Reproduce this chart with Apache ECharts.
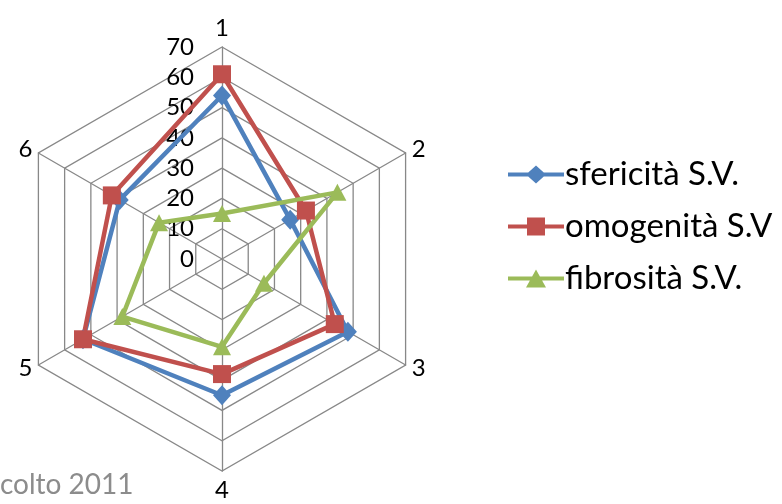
<!DOCTYPE html>
<html>
<head>
<meta charset="utf-8">
<script src="https://cdn.jsdelivr.net/npm/echarts@6/dist/echarts.min.js"></script>
<style>html,body{margin:0;padding:0;background:#fff}#c{width:782px;height:504px}</style>
</head>
<body>
<div id="c"></div>
<script>
// Data (axis order as in the reference, clockwise from top)
const categories = ['1', '2', '3', '4', '5', '6'];
const seriesNames = ['sfericità S.V.', 'omogenità S.V', 'fibrosità S.V.'];
const sfericita = [54, 26, 48, 45, 53, 39];
const omogenita = [61, 32, 43, 38, 53, 42];
const fibrosita = [15, 44, 16, 29, 38, 24];
const maxValue = 70;
const footnote = 'colto 2011';

const colors = ['#4F81BD', '#C0504D', '#9BBB59'];
const FONT = 'Lato, "Open Sans", sans-serif';

// ECharts radar goes counter-clockwise: reorder to get a clockwise layout
const order = [0, 5, 4, 3, 2, 1];
const reorder = arr => order.map(i => arr[i]);

const indicators = reorder(categories).map((n, i) => {
  const o = { name: n, max: maxValue, min: 0 };
  if (i === 0) o.axisLabel = { show: true };
  return o;
});

const lineIcon = 'M0 7 H56 V11 H0 Z ';
const icons = [
  'path://' + lineIcon + 'M28 0 L38 9 L28 18 L18 9 Z',
  'path://' + lineIcon + 'M19 0 H37 V18 H19 Z',
  'path://' + lineIcon + 'M28 0 L38 18 H18 Z'
];
const symbols = ['diamond', 'rect', 'triangle'];
const symbolSizes = [[18, 20], [18, 18], [18, 17]];
const datasets = [sfericita, omogenita, fibrosita];

const chart = echarts.init(document.getElementById('c'), null, { renderer: 'canvas' });
chart.setOption({
  animation: false,
  color: colors,
  textStyle: { fontFamily: FONT },
  legend: {
    orient: 'vertical',
    left: 503,
    top: 153,
    itemWidth: 56,
    itemHeight: 18,
    itemGap: 19,
    textStyle: { fontSize: 33, color: '#000', fontFamily: FONT, padding: [0, 0, 0, -4] },
    data: seriesNames.map((n, i) => ({ name: n, icon: icons[i], itemStyle: { color: colors[i] } }))
  },
  radar: {
    center: [222, 259],
    radius: 212,
    shape: 'polygon',
    splitNumber: 7,
    startAngle: 90,
    indicator: indicators,
    axisName: { color: '#000', fontSize: 24, fontFamily: FONT },
    nameGap: 7,
    splitArea: { show: false },
    splitLine: { lineStyle: { color: '#888', width: 1.3 } },
    axisLine: { lineStyle: { color: '#888', width: 1.3 } },
    axisTick: { show: false },
    axisLabel: { show: false, color: '#000', fontSize: 24, fontFamily: FONT, margin: 28 }
  },
  series: [{
    type: 'radar',
    data: datasets.map((d, i) => ({
      name: seriesNames[i],
      value: reorder(d),
      symbol: symbols[i],
      symbolSize: symbolSizes[i],
      itemStyle: { color: colors[i] },
      lineStyle: { color: colors[i], width: 4.5 }
    }))
  }],
  graphic: [{
    type: 'text',
    left: 0,
    top: 471,
    style: { text: footnote, fill: '#8c8c8c', font: '28px ' + FONT }
  }]
});
</script>
</body>
</html>
